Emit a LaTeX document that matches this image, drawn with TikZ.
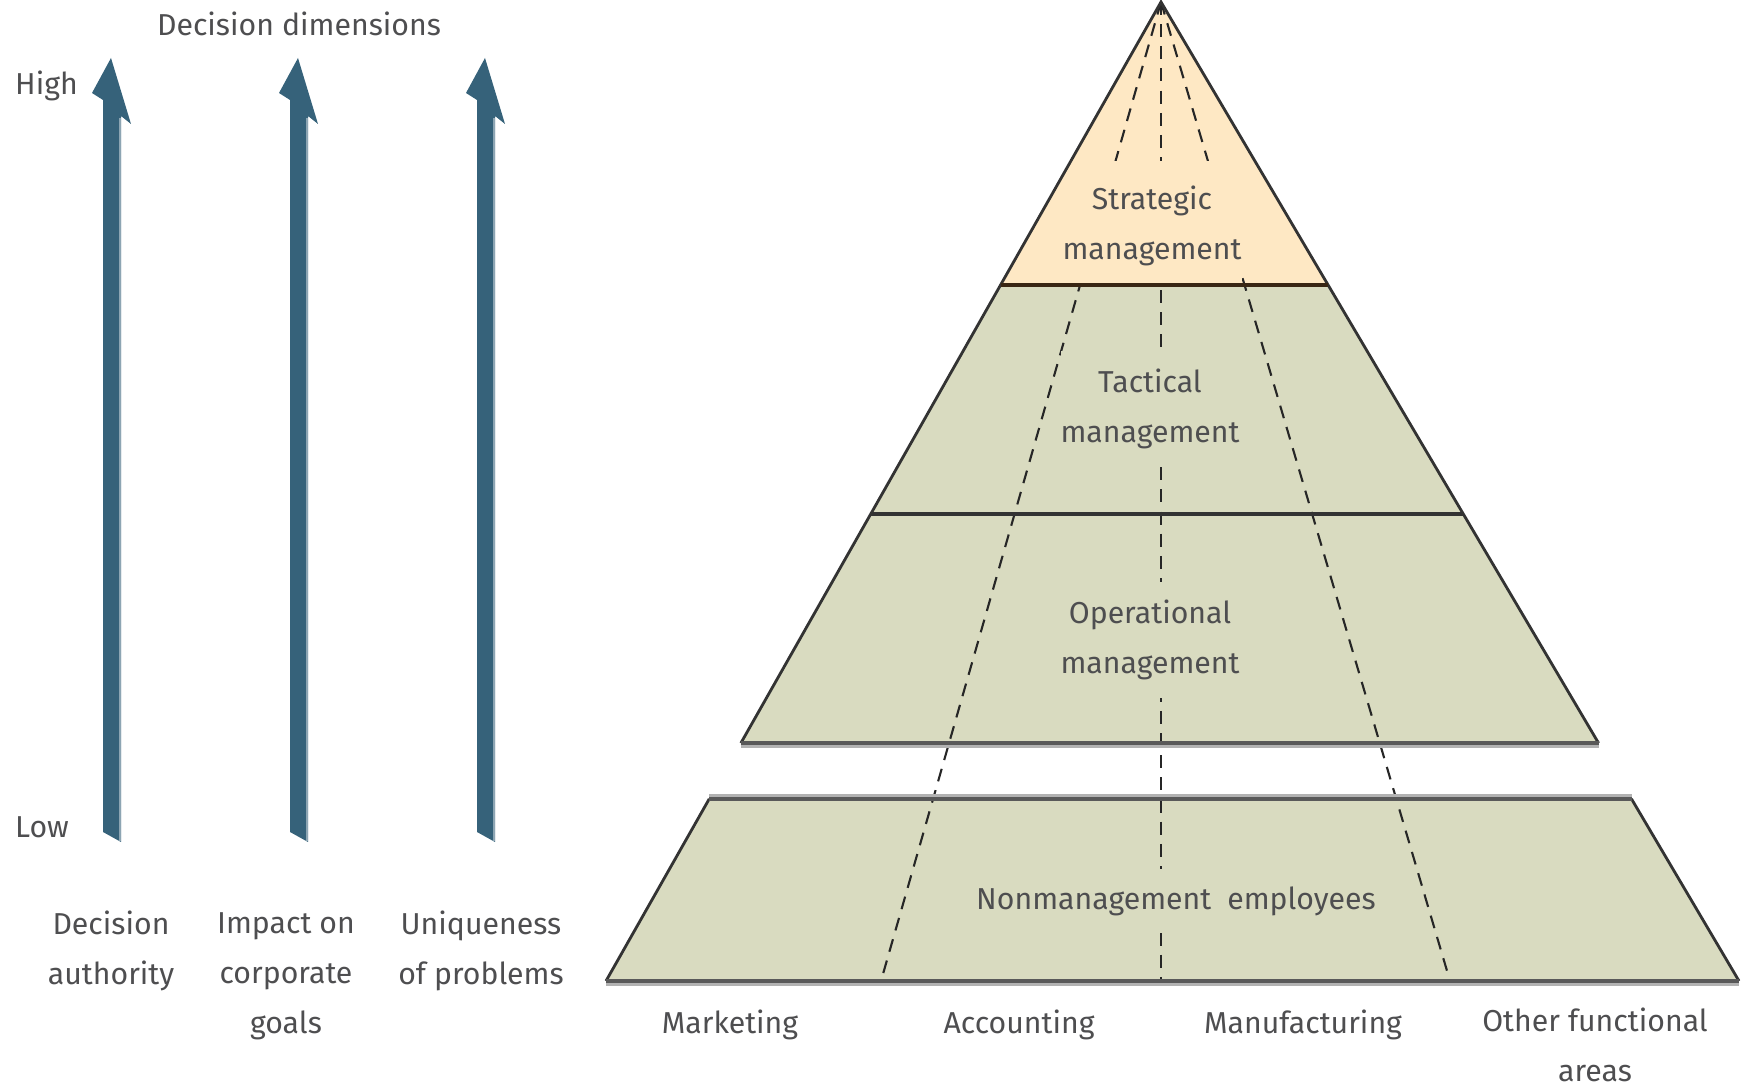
\documentclass[tikz,border=0pt]{standalone}
\usepackage{fontspec}
\setmainfont{Fira Sans}
\usetikzlibrary{calc}
\definecolor{arrowblue}{HTML}{36627A}
\definecolor{arrowlight}{HTML}{8DA5B3}
\definecolor{peach}{HTML}{FEE8C4}
\definecolor{olive}{HTML}{D9DBC0}
\definecolor{txtgray}{HTML}{4E4E50}
\definecolor{edgegray}{HTML}{333333}

\begin{document}
\begin{tikzpicture}[x=0.01cm, y=-0.01cm,
	lbl/.style={font=\fontsize{8.6}{14.2}\selectfont, text=txtgray, align=center, inner sep=1pt},
	tierlbl/.style={lbl, inner xsep=0pt, inner ysep=5pt},
	dimarrow/.style={fill=arrowblue},
	dimlight/.style={draw=arrowlight, line width=.7pt},
	divider/.style={dash pattern=on 3.7pt off 2.6pt, line width=.6pt, black!85},
	tierside/.style={draw=edgegray, line width=.8pt},
	tierrim/.style={draw=edgegray, line width=1.3pt},
	shadowline/.style={draw=black!30, line width=1pt}]
	\useasboundingbox (0,0) rectangle (1742,1086);
	% decision dimension arrows
	\fill[dimarrow, shift={(112,0)}] (-9,832) -- (-9,100) -- (-20,93) -- (-1,58) -- (19,124) -- (9,116) -- (9,842) -- cycle;
	\draw[dimlight, shift={(112,0)}] (8,118) -- (8,841);
	\fill[dimarrow, shift={(299,0)}] (-9,832) -- (-9,100) -- (-20,93) -- (-1,58) -- (19,124) -- (9,116) -- (9,842) -- cycle;
	\draw[dimlight, shift={(299,0)}] (8,118) -- (8,841);
	\fill[dimarrow, shift={(486,0)}] (-9,832) -- (-9,100) -- (-20,93) -- (-1,58) -- (19,124) -- (9,116) -- (9,842) -- cycle;
	\draw[dimlight, shift={(486,0)}] (8,118) -- (8,841);
	\node[lbl] (title) at (299,24) {Decision dimensions};
	\node[lbl, anchor=west] (high) at (11,86) {High};
	\node[lbl, anchor=west] (low) at (11,827) {Low};
	\node[lbl] (authority) at (111,951) {Decision\\authority};
	\node[lbl] (impact) at (286,976) {Impact on\\corporate\\goals};
	\node[lbl] (unique) at (481,951) {Uniqueness\\of problems};
	% pyramid
	\coordinate (apex) at (1161,2);
	\coordinate (bl) at (606,981);
	\coordinate (br) at (1739,981);
	\coordinate (sl) at ($(apex)!0.289!(bl)$);
	\coordinate (sr) at ($(apex)!0.289!(br)$);
	\coordinate (tl) at ($(apex)!0.523!(bl)$);
	\coordinate (tr) at ($(apex)!0.523!(br)$);
	\coordinate (ol) at ($(apex)!0.757!(bl)$);
	\coordinate (or) at ($(apex)!0.757!(br)$);
	\coordinate (nl) at ($(apex)!0.814!(bl)$);
	\coordinate (nr) at ($(apex)!0.814!(br)$);
	\coordinate (da) at (881,981);
	\coordinate (db) at (1161,981);
	\coordinate (dc) at (1450,981);
	\fill[peach] (apex) -- (sl) -- (sr) -- cycle;
	\fill[olive] (sl) -- (ol) -- (or) -- (sr) -- cycle;
	\fill[olive] (nl) -- (bl) -- (br) -- (nr) -- cycle;
	\draw[divider] (apex) -- (da);
	\draw[divider] (apex) -- (db);
	\draw[divider] (apex) -- (dc);
	\begin{scope}
		\clip (apex) -- (sl) -- (sr) -- cycle;
		\node[tierlbl, fill=peach, inner ysep=7pt] (strategic) at (1152,226) {Strategic\\management};
	\end{scope}
	\node[tierlbl, fill=olive] (tactical) at (1150,409) {Tactical\\management};
	\node[tierlbl, fill=olive] (operational) at (1150,640) {Operational\\management};
	\node[tierlbl, fill=olive] (nonmgmt) at (1176,901) {Nonmanagement\ \ employees};
	\draw[tierside] (ol) -- (apex) -- (or);
	\draw[tierside] (nl) -- (bl);
	\draw[tierside] (nr) -- (br);
	\draw[tierrim, draw=black!70!brown] (sl) -- (sr);
	\draw[tierrim] (tl) -- (tr);
	\draw[shadowline] ($(ol)+(0,3)$) -- ($(or)+(0,3)$);
	\draw[tierrim, draw=black!65] (ol) -- (or);
	\draw[shadowline] ($(nl)+(0,-3)$) -- ($(nr)+(0,-3)$);
	\draw[tierrim, draw=black!65] (nl) -- (nr);
	\draw[shadowline] ($(bl)+(0,3)$) -- ($(br)+(0,3)$);
	\draw[tierrim, draw=black!65] (bl) -- (br);
	% functional areas
	\node[lbl] (marketing) at (730,1025) {Marketing};
	\node[lbl] (accounting) at (1019,1025) {Accounting};
	\node[lbl] (manufacturing) at (1303,1025) {Manufacturing};
	\node[lbl] (other) at (1595,1045) {Other functional\\areas};
\end{tikzpicture}
\end{document}
